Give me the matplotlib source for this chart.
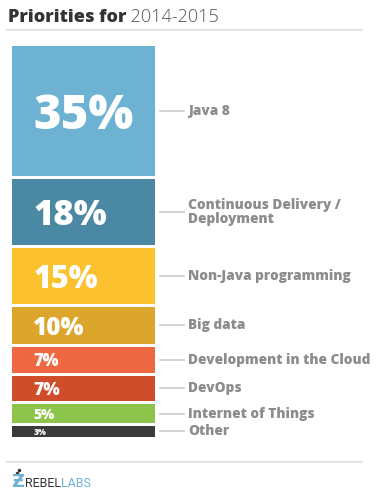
import matplotlib
matplotlib.use("Agg")
import matplotlib.pyplot as plt
import numpy as np

# data
categories = ["Java 8", "Continuous Delivery /\nDeployment", "Non-Java programming",
              "Big data", "Development in the Cloud", "DevOps",
              "Internet of Things", "Other"]
shares = [35, 18, 15, 10, 7, 7, 5, 3]
pct_labels = ["35%", "18%", "15%", "10%", "7%", "7%", "5%", "3%"]

# style
colors = ["#6EB2D3", "#4A88A3", "#FCC12E", "#DCA62C",
          "#EE6941", "#D04D2B", "#8DC44B", "#3A3A3A"]
pct_sizes = [34, 25, 22, 17.5, 12, 12.5, 10, 6]
GAP = 0.8
W, H = 376, 495

plt.rcParams['font.family'] = ['Open Sans', 'DejaVu Sans']

fig = plt.figure(figsize=(W / 100, H / 100), dpi=100)

def fx(px):
    return px / W

def fy(py):
    return 1 - py / H

# title and rules
ax_t = fig.add_axes([0, 0, 1, 1], facecolor='none')
ax_t.set_axis_off()
ax_t.set_xlim(0, W)
ax_t.set_ylim(H, 0)
t1 = ax_t.text(8, 22, "Priorities for", fontsize=13, fontweight='heavy',
               color="#333333", va='baseline', ha='left')
ax_t.annotate(" 2014-2015", xy=(1, 0), xycoords=t1, fontsize=13, color="#555555",
              fontweight='light', va='bottom', ha='left')
ax_t.plot([7, 362], [30, 30], color="#DDDDDD", lw=1.2)
ax_t.plot([7, 362], [462, 462], color="#DDDDDD", lw=1.2)

# bar axes
bottoms = np.cumsum([0] + shares[:-1]) + GAP * np.arange(len(shares))
total = bottoms[-1] + shares[-1]
ax = fig.add_axes([fx(12), fy(437), (155 - 12) / W, (437 - 46) / H])
ax.bar(0, shares, bottom=bottoms, width=1, align='edge', color=colors)
ax.set_xlim(0, 1)
ax.set_ylim(total, 0)
ax.set_axis_off()

centers = bottoms + np.array(shares) / 2
for c, lab, sz in zip(centers, pct_labels, pct_sizes):
    ax.text(0.15, c, lab, fontsize=sz, fontweight='heavy', color='white',
            va='center_baseline', ha='left')

for c, cat in zip(centers, categories):
    ax.plot([1.035, 1.2], [c, c], color="#CCCCCC", lw=1.2, clip_on=False)
    ax.text(1.231, c, cat, fontsize=9.8, fontweight='heavy', color="#8C8C8C",
            va='center', ha='left', linespacing=0.95, clip_on=False)

# logo
ax_t.text(11, 487, "Ƶ", fontsize=13, fontweight='bold', color="#6EB2D3",
          va='baseline', ha='left')
ax_t.plot([17, 19], [473, 470], 'o', color="#333333", ms=1.5)
r = ax_t.text(25, 487, "REBEL", fontsize=9, color="#333333",
              fontfamily=['Roboto', 'DejaVu Sans'], va='baseline', ha='left')
ax_t.annotate("LABS", xy=(1, 0), xycoords=r, fontsize=9, color="#6EB2D3",
              fontfamily=['Roboto', 'DejaVu Sans'], va='bottom', ha='left')

fig.savefig("out.png", dpi=100, facecolor='white')
